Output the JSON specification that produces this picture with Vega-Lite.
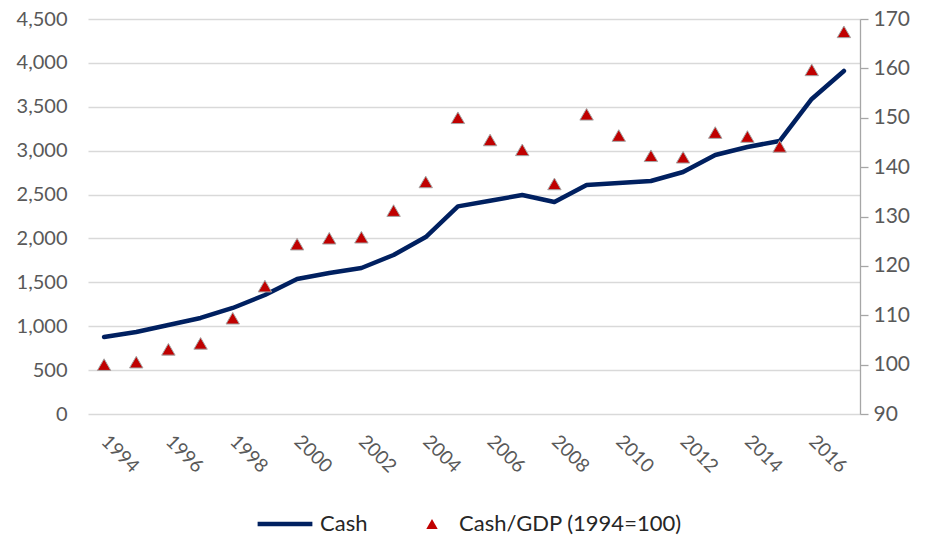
{
  "$schema": "https://vega.github.io/schema/vega-lite/v6.json",
  "width": 772,
  "height": 395,
  "autosize": {"type": "none"},
  "padding": {"left": 88, "top": 19, "right": 76, "bottom": 127},
  "background": "white",
  "config": {
    "view": {"stroke": null},
    "font": "Lato",
    "axis": {"labelFont": "Lato", "labelColor": "#595959"}
  },
  "data": {
    "values": [
      {"year": 1994, "cash": 877, "ratio": 100.0},
      {"year": 1995, "cash": 934, "ratio": 100.5},
      {"year": 1996, "cash": 1014, "ratio": 103.1},
      {"year": 1997, "cash": 1094, "ratio": 104.3},
      {"year": 1998, "cash": 1208, "ratio": 109.4},
      {"year": 1999, "cash": 1356, "ratio": 115.9},
      {"year": 2000, "cash": 1538, "ratio": 124.4},
      {"year": 2001, "cash": 1606, "ratio": 125.6},
      {"year": 2002, "cash": 1663, "ratio": 125.8},
      {"year": 2003, "cash": 1811, "ratio": 131.2},
      {"year": 2004, "cash": 2016, "ratio": 137.0},
      {"year": 2005, "cash": 2365, "ratio": 150.0},
      {"year": 2006, "cash": 2430, "ratio": 145.5},
      {"year": 2007, "cash": 2495, "ratio": 143.5},
      {"year": 2008, "cash": 2415, "ratio": 136.6},
      {"year": 2009, "cash": 2609, "ratio": 150.7},
      {"year": 2010, "cash": 2631, "ratio": 146.4},
      {"year": 2011, "cash": 2654, "ratio": 142.3},
      {"year": 2012, "cash": 2757, "ratio": 142.0},
      {"year": 2013, "cash": 2951, "ratio": 147.0},
      {"year": 2014, "cash": 3042, "ratio": 146.2},
      {"year": 2015, "cash": 3110, "ratio": 144.2},
      {"year": 2016, "cash": 3589, "ratio": 159.7},
      {"year": 2017, "cash": 3908, "ratio": 167.4}
    ]
  },
  "encoding": {
    "x": {
      "field": "year",
      "type": "ordinal",
      "scale": {"type": "point", "padding": 0.5},
      "axis": {
        "title": null,
        "values": [1994, 1996, 1998, 2000, 2002, 2004, 2006, 2008, 2010, 2012, 2014, 2016],
        "labelAngle": 45,
        "labelAlign": "left",
        "labelBaseline": "middle",
        "labelPadding": 24,
        "labelFontSize": 19,
        "domain": false,
        "ticks": false,
        "tickSize": 0,
        "grid": false,
        "labelOverlap": false,
        "labelFlush": false
      }
    }
  },
  "layer": [
    {
      "mark": {"type": "line", "strokeWidth": 4.5, "strokeCap": "round", "strokeJoin": "round"},
      "encoding": {
        "y": {
          "field": "cash",
          "type": "quantitative",
          "scale": {"domain": [0, 4500], "nice": false},
          "axis": {
            "title": null,
            "values": [0, 500, 1000, 1500, 2000, 2500, 3000, 3500, 4000, 4500],
            "format": ",.0f",
            "labelFontSize": 20,
            "labelPadding": 21,
            "domain": false,
            "ticks": false,
            "tickSize": 0,
            "grid": true,
            "gridColor": "#D9D9D9",
            "gridWidth": 1.3
          }
        },
        "color": {
          "datum": "Cash",
          "type": "nominal",
          "scale": {"domain": ["Cash"], "range": ["#002060"]},
          "legend": {
            "title": null,
            "orient": "none",
            "legendX": 167,
            "legendY": 475,
            "symbolType": "stroke",
            "symbolSize": 3000,
            "symbolStrokeWidth": 4.5,
            "labelFont": "Lato",
            "labelFontSize": 22,
            "labelColor": "#262626",
            "labelOffset": 5,
            "labelLimit": 400
          }
        }
      }
    },
    {
      "mark": {"type": "point", "shape": "triangle-up", "filled": true, "fill": "#C00000", "stroke": "#A6A6A6", "strokeWidth": 1, "size": 180, "opacity": 1},
      "encoding": {
        "y": {
          "field": "ratio",
          "type": "quantitative",
          "scale": {"domain": [90, 170], "nice": false, "zero": false},
          "axis": {
            "title": null,
            "orient": "right",
            "values": [90, 100, 110, 120, 130, 140, 150, 160, 170],
            "labelFontSize": 21,
            "labelPadding": 5,
            "domain": true,
            "domainColor": "#A6A6A6",
            "domainWidth": 1.3,
            "ticks": true,
            "tickColor": "#A6A6A6",
            "tickSize": 8,
            "tickWidth": 1.3,
            "grid": false
          }
        },
        "shape": {
          "datum": "Cash/GDP (1994=100)",
          "type": "nominal",
          "scale": {"domain": ["Cash/GDP (1994=100)"], "range": ["triangle-up"]},
          "legend": {
            "title": null,
            "orient": "none",
            "legendX": 333,
            "legendY": 494,
            "symbolSize": 130,
            "symbolFillColor": "#C00000",
            "symbolStrokeColor": "#A6A6A6",
            "symbolStrokeWidth": 1,
            "symbolOpacity": 1,
            "labelFont": "Lato",
            "labelFontSize": 22,
            "labelColor": "#262626",
            "labelOffset": 16,
            "labelLimit": 400
          }
        }
      }
    }
  ],
  "resolve": {"scale": {"y": "independent"}}
}
